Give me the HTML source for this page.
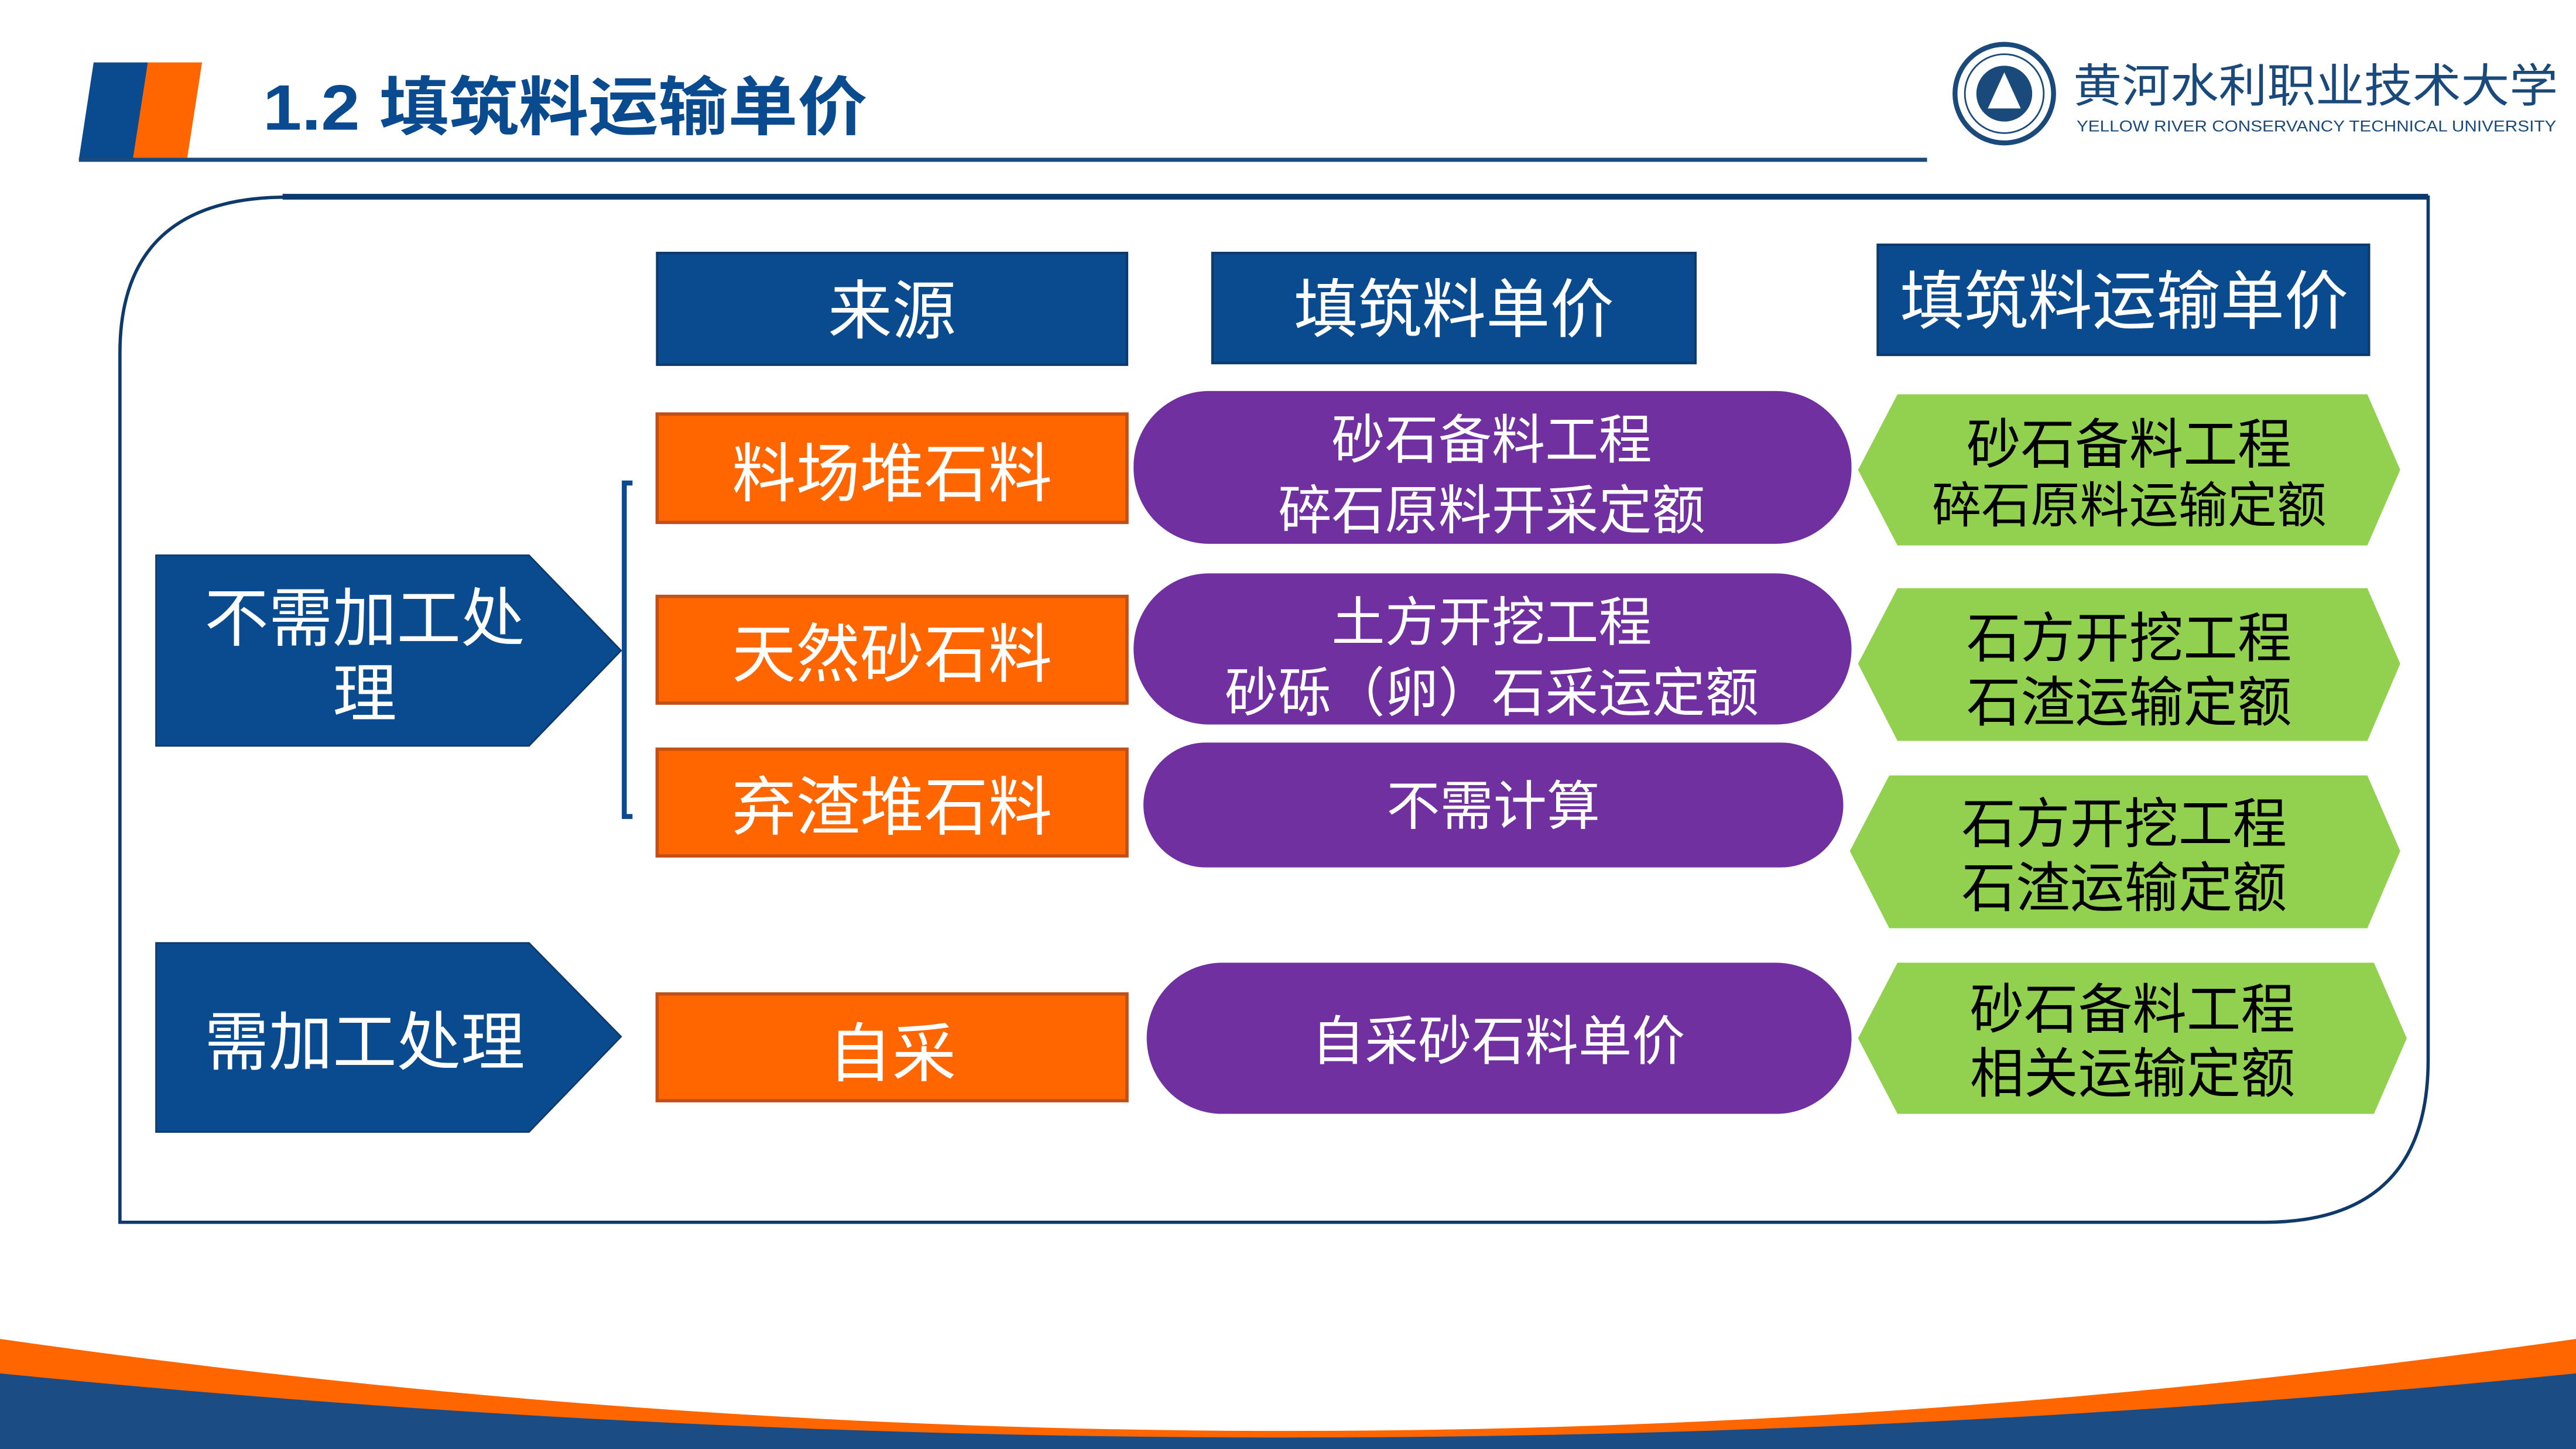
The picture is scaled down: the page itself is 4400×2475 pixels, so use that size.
<!DOCTYPE html>
<html><head><meta charset="utf-8"><style>
html,body{margin:0;padding:0;background:#fff;width:4400px;height:2475px;overflow:hidden;}
svg{display:block;}
text{font-family:"Liberation Sans","Noto Sans CJK SC",sans-serif;}
</style></head><body>
<svg width="4400" height="2475" viewBox="0 0 1568 882" preserveAspectRatio="none" xmlns="http://www.w3.org/2000/svg">
<rect width="1568" height="882" fill="#fff"/>
<!-- header -->
<polygon points="57,38 90,38 82,97 48,97" fill="#0a4a8e"/>
<polygon points="90,38 123,38 114,96 81,96" fill="#ff6600"/>
<rect x="48" y="96" width="1125" height="2.5" fill="#1a4a7c"/>
<text x="160" y="79" font-size="39" font-weight="bold" fill="#0a4a8e" textLength="368" lengthAdjust="spacingAndGlyphs">1.2  填筑料运输单价</text>
<!-- logo -->
<circle cx="1220" cy="57" r="30" fill="#fff" stroke="#1a4a7c" stroke-width="3"/>
<circle cx="1220" cy="57" r="24" fill="none" stroke="#1a4a7c" stroke-width="1"/>
<circle cx="1220" cy="57" r="17" fill="#1a4a7c"/>
<polygon points="1220,44 1230,66 1210,66" fill="#fff"/>
<text x="1262" y="62" font-size="28" fill="#1a4a7c" font-family="'Noto Serif CJK SC',serif" textLength="295" lengthAdjust="spacingAndGlyphs">黄河水利职业技术大学</text>
<text x="1264" y="80" font-size="9.5" fill="#1a4a7c" textLength="292" lengthAdjust="spacingAndGlyphs">YELLOW RIVER CONSERVANCY TECHNICAL UNIVERSITY</text>
<!-- frame -->
<path d="M73,744 L73,215 Q73,120 175,120 L1478,120 L1478,645 Q1478,744 1378,744 Z" fill="none" stroke="#0d3a6a" stroke-width="2"/>
<rect x="172" y="118" width="1306" height="3.5" fill="#0d3a6a"/>
<!-- header boxes -->
<g fill="#0a4a8e" stroke="#0d3a6a" stroke-width="1.5">
<rect x="400" y="154" width="286" height="68"/>
<rect x="738" y="154" width="294" height="67"/>
<rect x="1143" y="149" width="299" height="67"/>
</g>
<g fill="#fff" font-size="39" text-anchor="middle">
<text x="543" y="203">来源</text>
<text x="885" y="202">填筑料单价</text>
<text x="1293" y="197">填筑料运输单价</text>
</g>
<!-- blue pentagons -->
<polygon points="95,338 322,338 378,396 322,454 95,454" fill="#0a4a8e" stroke="#0d3a6a"/>
<polygon points="95,574 322,574 378,631 322,689 95,689" fill="#0a4a8e" stroke="#0d3a6a"/>
<g fill="#fff" font-size="39" text-anchor="middle">
<text x="222" y="390">不需加工处</text>
<text x="222" y="436">理</text>
<text x="222" y="648">需加工处理</text>
</g>
<!-- bracket -->
<path d="M385,294 L380,294 L380,497 L385,497" fill="none" stroke="#0a4a8e" stroke-width="3"/>
<!-- orange boxes -->
<g fill="#ff6600" stroke="#c0501a" stroke-width="2">
<rect x="400" y="252" width="286" height="66"/>
<rect x="400" y="363" width="286" height="65"/>
<rect x="400" y="456" width="286" height="65"/>
<rect x="400" y="605" width="286" height="65"/>
</g>
<g fill="#fff" font-size="39" text-anchor="middle">
<text x="543" y="302">料场堆石料</text>
<text x="543" y="412">天然砂石料</text>
<text x="543" y="505">弃渣堆石料</text>
<text x="543" y="655">自采</text>
</g>
<!-- purple pills -->
<g fill="#7030a0">
<rect x="690" y="238" width="437" height="93" rx="46"/>
<rect x="690" y="349" width="437" height="92" rx="46"/>
<rect x="696" y="452" width="426" height="76" rx="38"/>
<rect x="698" y="586" width="429" height="92" rx="46"/>
</g>
<g fill="#fff" font-size="32.5" text-anchor="middle">
<text x="908" y="279">砂石备料工程</text>
<text x="908" y="322">碎石原料开采定额</text>
<text x="908" y="390">土方开挖工程</text>
<text x="908" y="433">砂砾（卵）石采运定额</text>
<text x="909" y="502">不需计算</text>
<text x="912" y="645">自采砂石料单价</text>
</g>
<!-- green hexagons -->
<g fill="#92d050">
<polygon points="1155,240 1441,240 1461,286 1441,332 1155,332 1131,286"/>
<polygon points="1155,358 1441,358 1461,404 1441,451 1155,451 1131,404"/>
<polygon points="1150,472 1441,472 1461,518 1441,565 1150,565 1126,518"/>
<polygon points="1155,586 1445,586 1465,632 1445,678 1155,678 1131,632"/>
</g>
<g fill="#000" text-anchor="middle">
<text x="1296" y="282" font-size="33">砂石备料工程</text>
<text x="1296" y="318" font-size="30">碎石原料运输定额</text>
<text x="1296" y="400" font-size="33">石方开挖工程</text>
<text x="1296" y="439" font-size="33">石渣运输定额</text>
<text x="1293" y="513" font-size="33">石方开挖工程</text>
<text x="1293" y="552" font-size="33">石渣运输定额</text>
<text x="1298" y="626" font-size="33">砂石备料工程</text>
<text x="1298" y="665" font-size="33">相关运输定额</text>
</g>
<!-- bottom waves -->
<path d="M0,815 Q784,927 1568,815 L1568,882 L0,882 Z" fill="#ff6600"/>
<path d="M0,836 Q784,914 1568,836 L1568,882 L0,882 Z" fill="#1b4c84"/>
</svg>
</body></html>
